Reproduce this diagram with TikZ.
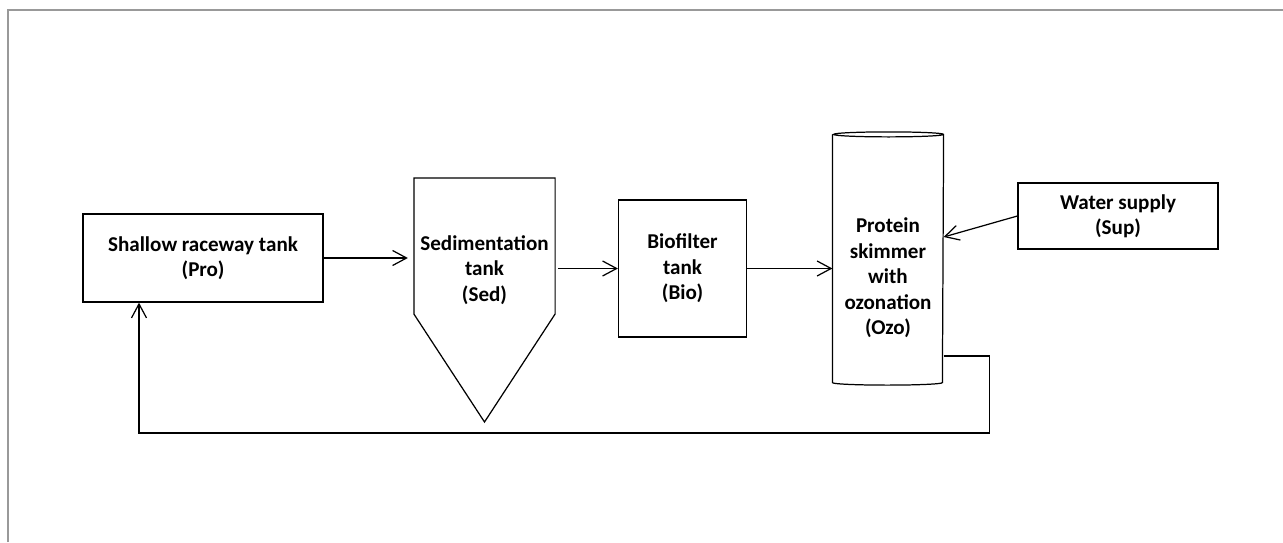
\documentclass[tikz,border=0pt]{standalone}
\usepackage{fontspec}
\setmainfont{Carlito}
\usepackage{tikz}
\usetikzlibrary{positioning,arrows.meta,calc}

\tikzset{
	unit/.style={draw,line width=0.7pt,align=center,font=\bfseries\fontsize{12}{14.5}\selectfont},
	flow/.style={line width=0.7pt,-{Straight Barb[length=2.8mm,width=3mm]}}
}

\begin{document}
\begin{tikzpicture}
		
		\useasboundingbox (0,0) rectangle (25.66,10.84);
		\draw[gray!80,line width=0.8pt] (0.16,0) -- (0.16,10.64) -- (25.66,10.64);
		
		% tanks
		\node[unit,minimum width=4.8cm,minimum height=1.76cm]
		(pro) at (4.06,5.68) {Shallow raceway tank\\(Pro)};
		
		\node[unit,draw=none,minimum width=2.78cm]
		(sed) at (9.69,5.44) {Sedimentation\\tank\\(Sed)};
		\draw[line width=0.7pt]
		([yshift=1.84cm]sed.west) -- ([yshift=-0.88cm]sed.west)
		-- ([yshift=-3.04cm]sed.center)
		-- ([yshift=-0.88cm]sed.east) -- ([yshift=1.84cm]sed.east) -- cycle;
		
		\node[unit,minimum width=2.56cm,minimum height=2.74cm]
		(bio) at (13.65,5.47) {Biofilter\\tank\\(Bio)};
		
		\node[unit,draw=none,minimum width=2.2cm,minimum height=4.94cm]
		(ozo) at (17.76,5.67) {};
		\draw[line width=0.7pt]
		(ozo.north west) -- (ozo.south west)
		arc[start angle=180,end angle=360,x radius=1.1cm,y radius=0.05cm]
		-- (ozo.north east)
		arc[start angle=0,end angle=360,x radius=1.1cm,y radius=0.05cm];
		\node[unit,draw=none]
		(ozotxt) at ([yshift=-0.39cm]ozo.center)
		{Protein\\skimmer\\with\\ozonation\\(Ozo)};
		
		\node[unit,minimum width=4cm,minimum height=1.32cm]
		(sup) at (22.36,6.52) {Water supply\\(Sup)};
		
		% flows
		\draw[flow,shorten >=0.12cm] (pro.east) -- (pro.east -| sed.west);
		\draw[flow,shorten <=0.06cm] (sed.east |- bio.west) -- (bio.west);
		\draw[flow] (bio.east) -- (bio.east -| ozo.west);
		\draw[flow] (sup.west) -- ([yshift=0.43cm]ozo.east);
		
		\coordinate (back) at (2.78,2.18);
		\draw[flow]
		([yshift=-1.95cm]ozo.east) -- ++(0.92,0) |- (back)
		-- (back |- pro.south);
		
\end{tikzpicture}
\end{document}
